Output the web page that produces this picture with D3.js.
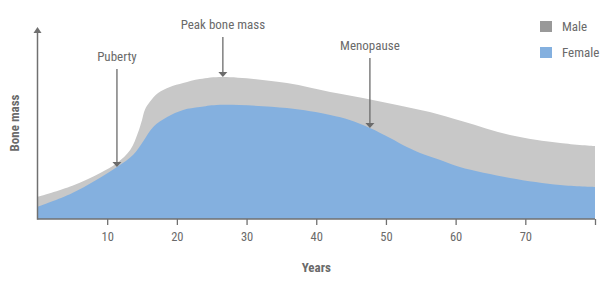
<!DOCTYPE html>
<html>
<head>
<meta charset="utf-8">
<script src="https://cdn.jsdelivr.net/npm/d3@7"></script>
<style>
  body { margin: 0; background: #fff; }
  svg text { font-family: "Liberation Sans Narrow", "Roboto Condensed", "Open Sans", sans-serif; fill: #6a6a6a; }
</style>
</head>
<body>
<svg id="chart"></svg>
<script>
// Bone mass over a lifetime (arbitrary 0-100 units)
const maleAges = [0, 5, 9, 11.4, 13.3, 14.4, 15.0, 15.4, 16.1, 17.3, 19.0, 20.9, 23.3, 26.6, 35.8, 42, 46.7, 51.6, 56.3, 61.1, 67.8, 75, 80];
const maleMass = [11.5, 17.3, 24, 29.2, 35.9, 44.8, 51.6, 56.8, 60.9, 65.6, 68.8, 70.8, 72.9, 74, 70.8, 66.1, 63, 59.4, 55.7, 50.8, 43.8, 39.6, 38];
const femaleAges = [0, 5, 11.4, 13.7, 15.1, 16.6, 18.6, 20.9, 23.3, 25.7, 35.8, 42, 44.8, 47.7, 50.6, 53, 54.9, 57.8, 60.6, 67.8, 75, 80];
const femaleMass = [6.3, 13.5, 27.1, 33.3, 40.1, 47.9, 53.1, 56.8, 58.3, 59.4, 57.8, 54.2, 51.6, 47.4, 42.2, 37.5, 34.4, 30.7, 27.1, 21.4, 17.7, 16.7];
const xTicks = [10, 20, 30, 40, 50, 60, 70];
const seriesNames = ['Male', 'Female'];
const seriesColors = ['#c8c8c8', '#84b0df'];
const legendColors = ['#999999', '#84b0df'];
// annotations: label, age where arrow points, which curve
const notes = [
  {label: 'Puberty', age: 11.4, series: 'Female', labelY: 57},
  {label: 'Peak bone mass', age: 26.6, series: 'Male', labelY: 25},
  {label: 'Menopause', age: 47.7, series: 'Female', labelY: 46}
];

const width = 600, height = 283;
const svg = d3.select('#chart').attr('width', width).attr('height', height);

const x = d3.scaleLinear().domain([0, 80]).range([37.5, 595]);
const y = d3.scaleLinear().domain([0, 100]).range([219, 27]);

const male = maleAges.map((a, i) => ({age: a, v: maleMass[i]}));
const female = femaleAges.map((a, i) => ({age: a, v: femaleMass[i]}));

const area = d3.area()
  .x(d => x(d.age))
  .y0(y(0))
  .y1(d => y(d.v))
  .curve(d3.curveCatmullRom.alpha(0.5));

svg.append('path').datum(male).attr('d', area).attr('fill', seriesColors[0]);
svg.append('path').datum(female).attr('d', area).attr('fill', seriesColors[1]);

// x axis
const axisColor = '#707070';
const xAxisG = svg.append('g')
  .attr('transform', `translate(0,${y(0)})`)
  .call(d3.axisBottom(x).tickValues(xTicks.concat([80])).tickSize(6).tickPadding(7)
    .tickFormat(d => xTicks.includes(d) ? d : ''));
xAxisG.select('.domain').attr('stroke', axisColor).attr('stroke-width', 1.5)
  .attr('d', `M${x(0)},0H${x(80)}`);
xAxisG.selectAll('.tick line').attr('stroke', axisColor).attr('stroke-width', 1.3);
xAxisG.selectAll('.tick text').attr('fill', '#6a6a6a').style('font-size', '12.5px')
  .style('font-family', '"Liberation Sans Narrow", "Roboto Condensed", "Open Sans", sans-serif');

// y axis with arrow
svg.append('line')
  .attr('x1', x(0)).attr('x2', x(0))
  .attr('y1', y(0) + 0.75).attr('y2', y(100) + 4)
  .attr('stroke', axisColor).attr('stroke-width', 1.5);
svg.append('path')
  .attr('d', `M${x(0) - 4},${y(100) + 6}L${x(0)},${y(100)}L${x(0) + 4},${y(100) + 6}Z`)
  .attr('fill', axisColor);

svg.append('text')
  .attr('x', x(40)).attr('y', 272)
  .attr('text-anchor', 'middle')
  .style('font-size', '13px').style('font-weight', 700)
  .text('Years');

svg.append('text')
  .attr('transform', `translate(19,${y(50)}) rotate(-90)`)
  .attr('text-anchor', 'middle')
  .style('font-size', '13px').style('font-weight', 700)
  .text('Bone mass');

// annotations
const interp = (arr, age) => {
  for (let i = 1; i < arr.length; i++) {
    if (arr[i].age >= age) {
      const t = (age - arr[i - 1].age) / (arr[i].age - arr[i - 1].age);
      return arr[i - 1].v + t * (arr[i].v - arr[i - 1].v);
    }
  }
  return arr[arr.length - 1].v;
};
const arrowColor = '#6b6b6b';
notes.forEach(n => {
  const ax = x(n.age);
  const tipY = y(interp(n.series === 'Male' ? male : female, n.age));
  svg.append('text')
    .attr('x', ax).attr('y', n.labelY + 4)
    .attr('text-anchor', 'middle')
    .style('font-size', '13px')
    .text(n.label);
  svg.append('line')
    .attr('x1', ax).attr('x2', ax)
    .attr('y1', n.labelY + 12).attr('y2', tipY - 4)
    .attr('stroke', arrowColor).attr('stroke-width', 1.3);
  svg.append('path')
    .attr('d', `M${ax - 4.5},${tipY - 5}L${ax + 4.5},${tipY - 5}L${ax},${tipY}Z`)
    .attr('fill', arrowColor);
});

// legend
const legend = svg.append('g').attr('transform', 'translate(540,21)');
seriesNames.forEach((name, i) => {
  const g = legend.append('g').attr('transform', `translate(0,${i * 26})`);
  g.append('rect').attr('width', 12).attr('height', 11).attr('fill', legendColors[i]);
  g.append('text').attr('x', 22).attr('y', 10)
    .style('font-size', '13px')
    .text(name);
});
</script>
</body>
</html>
